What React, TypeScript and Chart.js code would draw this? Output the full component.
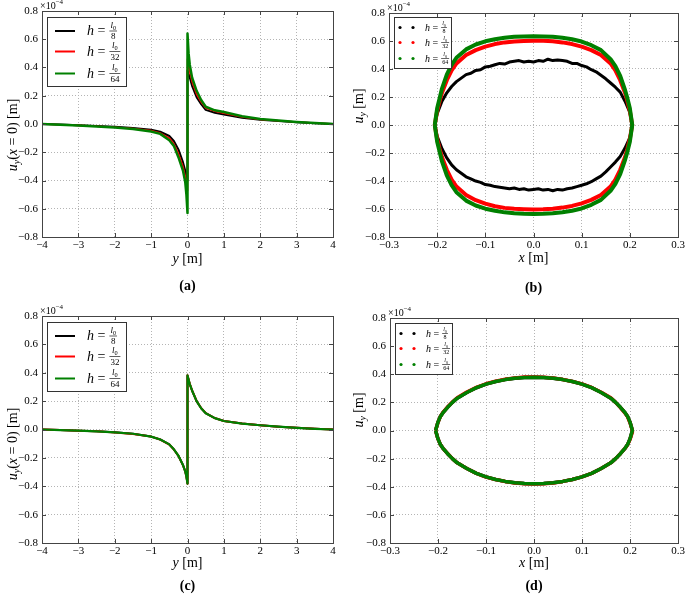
import React, { useEffect, useRef } from "react";
import { Chart, registerables } from "chart.js";

Chart.register(...registerables);

const FONT = "'Liberation Serif', 'DejaVu Serif', serif";
const BLACK = "#000000";
const RED = "#ff0000";
const GREEN = "#008000";
const FRAME = "#444444";

// ---------- tick values ----------
const yTickValues = [-0.8, -0.6, -0.4, -0.2, 0, 0.2, 0.4, 0.6, 0.8];
const profileXTicks = [-4, -3, -2, -1, 0, 1, 2, 3, 4];
const loopXTicks = [-0.3, -0.2, -0.1, 0, 0.1, 0.2, 0.3];

// legend: h = l0 / denominator
const seriesDenominators = ["8", "32", "64"];
const seriesColors = [BLACK, RED, GREEN];

// ---------- panels (a) and (c): u_y(x=0) along y, units of 1e-4 m ----------
const profileY = [-4, -3.5, -3, -2.5, -2, -1.5, -1, -0.75, -0.5, -0.375, -0.25, -0.125, -0.0625, -0.03, 0,
  0, 0.03, 0.0625, 0.125, 0.25, 0.375, 0.5, 0.75, 1, 1.5, 2, 2.5, 3, 3.5, 4];

const aBlack = [0, -0.004, -0.009, -0.014, -0.02, -0.028, -0.04, -0.055, -0.085, -0.12, -0.18, -0.27, -0.33, -0.37, -0.40,
  0.38, 0.355, 0.33, 0.27, 0.19, 0.14, 0.1, 0.08, 0.068, 0.045, 0.03, 0.021, 0.013, 0.006, 0];
const aRed = [0, -0.005, -0.01, -0.016, -0.023, -0.032, -0.047, -0.064, -0.1, -0.14, -0.21, -0.3, -0.37, -0.42, -0.47,
  0.46, 0.41, 0.37, 0.3, 0.21, 0.155, 0.113, 0.09, 0.077, 0.05, 0.033, 0.023, 0.014, 0.007, 0];
const aGreen = [0, -0.005, -0.011, -0.017, -0.025, -0.035, -0.053, -0.07, -0.115, -0.155, -0.235, -0.33, -0.41, -0.5, -0.63,
  0.64, 0.5, 0.42, 0.33, 0.235, 0.17, 0.122, 0.097, 0.085, 0.055, 0.036, 0.025, 0.015, 0.007, 0];

const cBlack = [0, -0.004, -0.008, -0.013, -0.02, -0.03, -0.05, -0.07, -0.105, -0.14, -0.185, -0.25, -0.295, -0.33, -0.38,
  0.38, 0.35, 0.32, 0.275, 0.2, 0.15, 0.115, 0.08, 0.06, 0.042, 0.03, 0.02, 0.012, 0.005, 0];
const cRed = [0, -0.004, -0.008, -0.013, -0.021, -0.031, -0.05, -0.071, -0.106, -0.141, -0.186, -0.251, -0.296, -0.332, -0.382,
  0.382, 0.352, 0.321, 0.276, 0.201, 0.151, 0.116, 0.081, 0.06, 0.042, 0.03, 0.02, 0.012, 0.005, 0];
const cGreen = [0, -0.004, -0.008, -0.013, -0.02, -0.03, -0.05, -0.07, -0.105, -0.14, -0.185, -0.25, -0.295, -0.331, -0.381,
  0.381, 0.351, 0.32, 0.275, 0.2, 0.15, 0.115, 0.08, 0.06, 0.042, 0.03, 0.02, 0.012, 0.005, 0];

// ---------- panels (b) and (d): u_y along x (crack faces), units of 1e-4 m ----------
const loopX = [-0.205, -0.2, -0.195, -0.19, -0.18, -0.17, -0.16, -0.14, -0.12, -0.1, -0.08, -0.06, -0.04, -0.02, 0,
  0.02, 0.04, 0.06, 0.08, 0.1, 0.12, 0.14, 0.16, 0.17, 0.18, 0.19, 0.195, 0.2, 0.205];

const bGreenUpper = [0, 0.12, 0.19, 0.26, 0.36, 0.43, 0.48, 0.54, 0.575, 0.598, 0.613, 0.623, 0.63, 0.633, 0.634,
  0.633, 0.63, 0.623, 0.612, 0.596, 0.57, 0.535, 0.47, 0.42, 0.35, 0.25, 0.19, 0.12, 0];
const bGreenLower = [0, -0.12, -0.19, -0.26, -0.36, -0.43, -0.48, -0.54, -0.575, -0.598, -0.613, -0.624, -0.63, -0.634, -0.635,
  -0.634, -0.63, -0.623, -0.612, -0.596, -0.57, -0.535, -0.47, -0.42, -0.35, -0.25, -0.19, -0.12, 0];
const bRedUpper = [0, 0.1, 0.17, 0.23, 0.32, 0.39, 0.44, 0.5, 0.535, 0.56, 0.578, 0.59, 0.597, 0.6, 0.602,
  0.601, 0.598, 0.59, 0.578, 0.56, 0.535, 0.5, 0.44, 0.39, 0.32, 0.23, 0.17, 0.1, 0];
const bRedLower = [0, -0.1, -0.17, -0.23, -0.32, -0.39, -0.44, -0.5, -0.537, -0.562, -0.58, -0.592, -0.598, -0.601, -0.603,
  -0.602, -0.598, -0.59, -0.578, -0.56, -0.535, -0.5, -0.44, -0.39, -0.32, -0.23, -0.17, -0.1, 0];

const blackLoopX = [-0.205, -0.2, -0.19, -0.18, -0.17, -0.16, -0.15, -0.14, -0.13, -0.12, -0.11, -0.1, -0.09, -0.08, -0.07,
  -0.06, -0.05, -0.04, -0.03, -0.02, -0.01, 0, 0.01, 0.02, 0.03, 0.04, 0.05, 0.06, 0.07, 0.08, 0.09, 0.1, 0.11, 0.12,
  0.13, 0.14, 0.15, 0.16, 0.17, 0.18, 0.19, 0.2, 0.205];
const bBlackUpper = [0, 0.08, 0.17, 0.23, 0.275, 0.31, 0.335, 0.36, 0.37, 0.39, 0.395, 0.415, 0.42, 0.43, 0.44,
  0.435, 0.45, 0.455, 0.46, 0.45, 0.455, 0.45, 0.46, 0.455, 0.47, 0.46, 0.465, 0.46, 0.455, 0.44, 0.44, 0.425, 0.415,
  0.395, 0.38, 0.355, 0.33, 0.3, 0.27, 0.235, 0.17, 0.09, 0];
const bBlackLower = [0, -0.08, -0.17, -0.235, -0.285, -0.32, -0.345, -0.37, -0.385, -0.4, -0.41, -0.425, -0.43, -0.44, -0.445,
  -0.45, -0.455, -0.45, -0.46, -0.455, -0.465, -0.46, -0.455, -0.465, -0.46, -0.47, -0.46, -0.465, -0.455, -0.45, -0.44,
  -0.43, -0.42, -0.405, -0.385, -0.365, -0.335, -0.3, -0.265, -0.225, -0.165, -0.09, 0];

const dBlackUpper = [0, 0.06, 0.1, 0.125, 0.165, 0.2, 0.23, 0.27, 0.304, 0.33, 0.348, 0.362, 0.371, 0.377, 0.378,
  0.377, 0.372, 0.362, 0.348, 0.33, 0.305, 0.27, 0.23, 0.2, 0.165, 0.125, 0.1, 0.06, 0];
const dBlackLower = [0, -0.06, -0.1, -0.125, -0.165, -0.2, -0.23, -0.27, -0.305, -0.33, -0.348, -0.362, -0.372, -0.377, -0.379,
  -0.377, -0.372, -0.362, -0.348, -0.33, -0.305, -0.27, -0.23, -0.2, -0.165, -0.125, -0.1, -0.06, 0];
const dRedUpper = [0, 0.058, 0.1, 0.127, 0.168, 0.203, 0.233, 0.273, 0.307, 0.332, 0.35, 0.364, 0.374, 0.38, 0.38,
  0.378, 0.373, 0.363, 0.349, 0.331, 0.306, 0.272, 0.232, 0.2, 0.163, 0.122, 0.097, 0.055, 0];
const dRedLower = [0, -0.06, -0.1, -0.125, -0.164, -0.2, -0.23, -0.27, -0.305, -0.331, -0.349, -0.363, -0.373, -0.378, -0.38,
  -0.378, -0.373, -0.362, -0.348, -0.33, -0.305, -0.27, -0.23, -0.2, -0.165, -0.126, -0.102, -0.065, -0.01];
const dGreenUpper = [0, 0.06, 0.1, 0.125, 0.165, 0.2, 0.23, 0.27, 0.305, 0.33, 0.348, 0.362, 0.372, 0.377, 0.379,
  0.377, 0.372, 0.362, 0.348, 0.33, 0.305, 0.27, 0.23, 0.2, 0.165, 0.125, 0.1, 0.06, 0];
const dGreenLower = [0, -0.06, -0.1, -0.125, -0.165, -0.2, -0.23, -0.27, -0.305, -0.33, -0.348, -0.362, -0.372, -0.377, -0.379,
  -0.377, -0.372, -0.362, -0.348, -0.33, -0.305, -0.27, -0.23, -0.2, -0.165, -0.125, -0.1, -0.06, 0];

// ---------- helpers ----------
type Run = { t: string; size: number; italic?: boolean; bold?: boolean; dy?: number };

function runFont(r: Run) {
  return `${r.italic ? "italic " : ""}${r.bold ? "bold " : ""}${r.size}px ${FONT}`;
}
function runsWidth(ctx: CanvasRenderingContext2D, runs: Run[]) {
  let w = 0;
  for (const r of runs) {
    ctx.font = runFont(r);
    w += ctx.measureText(r.t).width;
  }
  return w;
}
function drawRuns(ctx: CanvasRenderingContext2D, x: number, y: number, runs: Run[], align: "left" | "center") {
  const w = runsWidth(ctx, runs);
  let cx = align === "center" ? x - w / 2 : x;
  ctx.textAlign = "left";
  ctx.textBaseline = "alphabetic";
  for (const r of runs) {
    ctx.font = runFont(r);
    ctx.fillText(r.t, cx, y + (r.dy || 0));
    cx += ctx.measureText(r.t).width;
  }
  return cx;
}
function drawFrac(ctx: CanvasRenderingContext2D, left: number, cy: number, s: number, den: string) {
  const num: Run[] = [
    { t: "l", size: s, italic: true },
    { t: "0", size: s * 0.7, dy: s * 0.22 },
  ];
  const dn: Run[] = [{ t: den, size: s }];
  const wn = runsWidth(ctx, num);
  const wd = runsWidth(ctx, dn);
  const bw = Math.max(wn, wd) + 2;
  const mid = left + bw / 2;
  ctx.beginPath();
  ctx.lineWidth = Math.max(0.6, s * 0.07);
  ctx.strokeStyle = "#000";
  ctx.moveTo(left, cy);
  ctx.lineTo(left + bw, cy);
  ctx.stroke();
  drawRuns(ctx, mid, cy - s * 0.38, num, "center");
  drawRuns(ctx, mid, cy + s * 0.9, dn, "center");
}

const fmt = (v: number, d: number) => {
  const s = Math.abs(v) < 1e-9 ? (0).toFixed(d) : v.toFixed(d);
  return s.replace("-", "\u2212");
};

type Legend = {
  kind: "line" | "dot";
  x: number; y: number; w: number; h: number;
  rows: number[];
  s1: number; s2: number;
  textX: number;
  hSize: number;
  fracSize: number;
};

type Spec = {
  w: number; h: number;
  area: { l: number; t: number; r: number; b: number };
  xMin: number; xMax: number; xTicks: number[]; xDec: number;
  datasets: any[];
  legend: Legend;
  xTitle: Run[]; xTitleY: number;
  yTitle: Run[]; yTitleX: number; yTitleY: number;
  label: string; labelY: number;
};

function decorPlugin(spec: Spec) {
  return {
    id: "decor",
    afterDraw(chart: any) {
      const ctx: CanvasRenderingContext2D = chart.ctx;
      const { left, top, right, bottom } = chart.chartArea;
      const xs = chart.scales.x;
      const ys = chart.scales.y;
      ctx.save();
      // frame
      ctx.strokeStyle = FRAME;
      ctx.lineWidth = 1;
      ctx.setLineDash([]);
      ctx.strokeRect(Math.round(left) + 0.5, Math.round(top) + 0.5, Math.round(right - left), Math.round(bottom - top));
      // inward ticks
      ctx.beginPath();
      for (const v of spec.xTicks) {
        const px = Math.round(xs.getPixelForValue(v)) + 0.5;
        ctx.moveTo(px, bottom); ctx.lineTo(px, bottom - 4);
        ctx.moveTo(px, top); ctx.lineTo(px, top + 4);
      }
      for (const v of yTickValues) {
        const py = Math.round(ys.getPixelForValue(v)) + 0.5;
        ctx.moveTo(left, py); ctx.lineTo(left + 4, py);
        ctx.moveTo(right, py); ctx.lineTo(right - 4, py);
      }
      ctx.stroke();
      ctx.fillStyle = "#000";
      // offset text x10^-4
      drawRuns(ctx, left - 2, top - 2, [
        { t: "\u00d710", size: 10 },
        { t: "\u22124", size: 7, dy: -5 },
      ], "left");
      // legend
      const lg = spec.legend;
      ctx.fillStyle = "#fff";
      ctx.fillRect(lg.x, lg.y, lg.w, lg.h);
      ctx.strokeStyle = "#333";
      ctx.lineWidth = 1;
      ctx.strokeRect(lg.x + 0.5, lg.y + 0.5, lg.w, lg.h);
      lg.rows.forEach((ry, i) => {
        const cy = lg.y + ry;
        ctx.strokeStyle = seriesColors[i];
        ctx.fillStyle = seriesColors[i];
        if (lg.kind === "line") {
          ctx.beginPath();
          ctx.lineWidth = 2;
          ctx.moveTo(lg.x + lg.s1, cy);
          ctx.lineTo(lg.x + lg.s2, cy);
          ctx.stroke();
        } else {
          for (const sx of [lg.s1, lg.s2]) {
            ctx.beginPath();
            ctx.arc(lg.x + sx, cy, 1.6, 0, Math.PI * 2);
            ctx.fill();
          }
        }
        ctx.fillStyle = "#000";
        const end = drawRuns(ctx, lg.x + lg.textX, cy + lg.hSize * 0.3, [
          { t: "h", size: lg.hSize, italic: true },
          { t: " = ", size: lg.hSize },
        ], "left");
        drawFrac(ctx, end + 0.5, cy, lg.fracSize, seriesDenominators[i]);
      });
      // axis titles
      ctx.fillStyle = "#000";
      drawRuns(ctx, (left + right) / 2, spec.xTitleY, spec.xTitle, "center");
      ctx.save();
      ctx.translate(spec.yTitleX, spec.yTitleY);
      ctx.rotate(-Math.PI / 2);
      drawRuns(ctx, 0, 0, spec.yTitle, "center");
      ctx.restore();
      // panel label
      drawRuns(ctx, (left + right) / 2, spec.labelY, [{ t: spec.label, size: 14, bold: true }], "center");
      ctx.restore();
    },
  };
}

function buildConfig(spec: Spec): any {
  const yAxisW = 40;
  const xAxisH = 20;
  const grid = { color: "#b4b4b4", lineWidth: 1, drawTicks: false };
  const border = { display: false, dash: [1, 2] };
  const tickFont = { family: FONT, size: 11 };
  return {
    type: "scatter",
    data: { datasets: spec.datasets },
    options: {
      responsive: false,
      maintainAspectRatio: false,
      animation: false,
      devicePixelRatio: 1,
      events: [],
      layout: {
        padding: {
          left: spec.area.l - yAxisW,
          right: spec.w - spec.area.r,
          top: spec.area.t,
          bottom: spec.h - spec.area.b - xAxisH,
        },
      },
      plugins: { legend: { display: false }, tooltip: { enabled: false } },
      elements: { point: { radius: 0, hoverRadius: 0 }, line: { tension: 0 } },
      scales: {
        x: {
          type: "linear",
          position: "bottom",
          min: spec.xMin,
          max: spec.xMax,
          afterBuildTicks: (s: any) => { s.ticks = spec.xTicks.map((v) => ({ value: v })); },
          afterFit: (s: any) => { s.height = xAxisH; s.paddingLeft = 0; s.paddingRight = 0; },
          grid,
          border,
          ticks: { font: tickFont, color: "#000", padding: 2, maxRotation: 0, autoSkip: false,
            callback: (v: number) => fmt(v, spec.xDec) },
        },
        y: {
          type: "linear",
          position: "left",
          min: -0.8,
          max: 0.8,
          afterBuildTicks: (s: any) => { s.ticks = yTickValues.map((v) => ({ value: v })); },
          afterFit: (s: any) => { s.width = yAxisW; s.paddingTop = 0; s.paddingBottom = 0; },
          grid,
          border,
          ticks: { font: tickFont, color: "#000", padding: 4, autoSkip: false,
            callback: (v: number) => fmt(v, 1) },
        },
      },
    },
    plugins: [decorPlugin(spec)],
  };
}

function profileSet(vals: number[], color: string, width: number, order: number) {
  return {
    data: profileY.map((x, i) => ({ x, y: vals[i] })),
    showLine: true,
    borderColor: color,
    backgroundColor: color,
    borderWidth: width,
    borderJoinStyle: "round",
    borderCapStyle: "round",
    pointRadius: 0,
    fill: false,
    order,
  };
}
function loopSet(xs: number[], upper: number[], lower: number[], color: string, width: number, order: number) {
  const pts = xs.map((x, i) => ({ x, y: upper[i] }));
  for (let i = xs.length - 1; i >= 0; i--) pts.push({ x: xs[i], y: lower[i] });
  return {
    data: pts,
    showLine: true,
    borderColor: color,
    backgroundColor: color,
    borderWidth: width,
    borderJoinStyle: "round",
    pointRadius: 0,
    fill: false,
    order,
  };
}

const profileXTitle: Run[] = [
  { t: "y", size: 14, italic: true },
  { t: " [m]", size: 14 },
];
const profileYTitle: Run[] = [
  { t: "u", size: 14, italic: true },
  { t: "y", size: 10, italic: true, dy: 3 },
  { t: "(", size: 14 },
  { t: "x", size: 14, italic: true },
  { t: " = 0) [m]", size: 14 },
];
const loopXTitle: Run[] = [
  { t: "x", size: 14, italic: true },
  { t: " [m]", size: 14 },
];
const loopYTitle: Run[] = [
  { t: "u", size: 14, italic: true },
  { t: "y", size: 10, italic: true, dy: 3 },
  { t: " [m]", size: 14 },
];

const lineLegend = (y: number): Legend => ({
  kind: "line", x: 47, y, w: 79, h: 69, rows: [14, 34.5, 56.5], s1: 8, s2: 28, textX: 40, hSize: 14, fracSize: 9,
});
const dotLegend = (x: number, y: number): Legend => ({
  kind: "dot", x, y, w: 57, h: 51, rows: [10.5, 25.5, 41.5], s1: 6, s2: 19, textX: 31, hSize: 10, fracSize: 6,
});

const specA: Spec = {
  w: 345, h: 300, area: { l: 42, t: 11, r: 333, b: 237 },
  xMin: -4, xMax: 4, xTicks: profileXTicks, xDec: 0,
  datasets: [profileSet(aGreen, GREEN, 2.5, 0), profileSet(aRed, RED, 1.6, 1), profileSet(aBlack, BLACK, 2, 2)],
  legend: lineLegend(17),
  xTitle: profileXTitle, xTitleY: 263,
  yTitle: profileYTitle, yTitleX: 17, yTitleY: 135,
  label: "(a)", labelY: 290,
};
const specB: Spec = {
  w: 340, h: 300, area: { l: 44, t: 13, r: 333, b: 237 },
  xMin: -0.3, xMax: 0.3, xTicks: loopXTicks, xDec: 1,
  datasets: [
    loopSet(loopX, bGreenUpper, bGreenLower, GREEN, 4, 0),
    loopSet(loopX, bRedUpper, bRedLower, RED, 4, 1),
    loopSet(blackLoopX, bBlackUpper, bBlackLower, BLACK, 3, 2),
  ],
  legend: dotLegend(49, 17),
  xTitle: loopXTitle, xTitleY: 262,
  yTitle: loopYTitle, yTitleX: 18, yTitleY: 106,
  label: "(b)", labelY: 292,
};
const specC: Spec = {
  w: 345, h: 297, area: { l: 42, t: 16, r: 333, b: 243 },
  xMin: -4, xMax: 4, xTicks: profileXTicks, xDec: 0,
  datasets: [profileSet(cGreen, GREEN, 2.2, 0), profileSet(cRed, RED, 2, 1), profileSet(cBlack, BLACK, 2, 2)],
  legend: lineLegend(22),
  xTitle: profileXTitle, xTitleY: 267,
  yTitle: profileYTitle, yTitleX: 17, yTitleY: 144,
  label: "(c)", labelY: 290,
};
const specD: Spec = {
  w: 340, h: 297, area: { l: 45, t: 18, r: 333, b: 243 },
  xMin: -0.3, xMax: 0.3, xTicks: loopXTicks, xDec: 1,
  datasets: [
    loopSet(loopX, dGreenUpper, dGreenLower, GREEN, 3.5, 0),
    loopSet(loopX, dRedUpper, dRedLower, RED, 3.5, 1),
    loopSet(loopX, dBlackUpper, dBlackLower, BLACK, 3.5, 2),
  ],
  legend: dotLegend(50, 23),
  xTitle: loopXTitle, xTitleY: 267,
  yTitle: loopYTitle, yTitleX: 18, yTitleY: 110,
  label: "(d)", labelY: 290,
};

function Panel({ spec, left, top }: { spec: Spec; left: number; top: number }) {
  const ref = useRef<HTMLCanvasElement>(null);
  useEffect(() => {
    const chart = new Chart(ref.current as HTMLCanvasElement, buildConfig(spec));
    return () => chart.destroy();
  }, []);
  return (
    <canvas
      ref={ref}
      width={spec.w}
      height={spec.h}
      style={{ position: "absolute", left, top, width: spec.w, height: spec.h, display: "block" }}
    />
  );
}

export default function App() {
  return (
    <div style={{ position: "fixed", left: 0, top: 0, width: 685, height: 597, background: "#fff", overflow: "hidden" }}>
      <Panel spec={specA} left={0} top={0} />
      <Panel spec={specB} left={345} top={0} />
      <Panel spec={specC} left={0} top={300} />
      <Panel spec={specD} left={345} top={300} />
    </div>
  );
}
